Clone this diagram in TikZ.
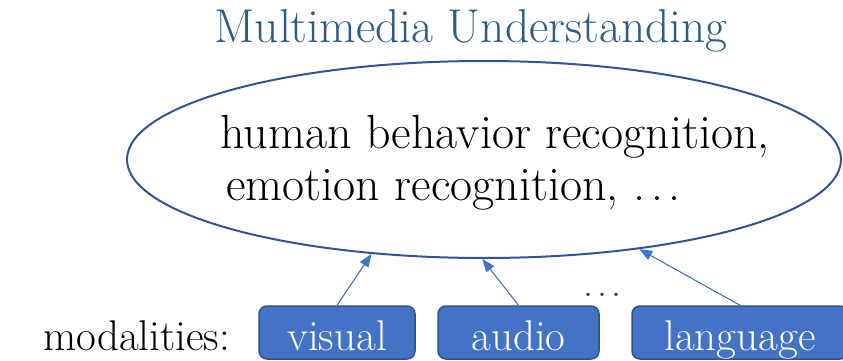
\documentclass[tikz,border=0pt]{standalone}
\usepackage{fontspec}
\usetikzlibrary{shapes.geometric,arrows.meta}
\definecolor{titleblue}{HTML}{2C5A8C}
\definecolor{ringblue}{HTML}{2F5597}
\definecolor{boxfill}{HTML}{4472C4}
\definecolor{boxline}{HTML}{2F528F}
\definecolor{dotnavy}{HTML}{203864}
% three loosely spaced dots
\newcommand\wideDots[1]{.\hspace{#1}.\hspace{#1}.}
\tikzset{
  modbox/.style={draw=boxline, line width=1.5pt, fill=boxfill, rounded corners=8pt,
    text=white, font=\fontsize{43}{43}\selectfont, inner sep=0pt,
    minimum height=53pt, text height=40pt, text depth=5pt},
  feed/.style={draw=boxfill, line width=1.1pt, -{Triangle[length=13pt,width=10pt]}},
  task/.style={font=\fontsize{48}{52}\selectfont, inner sep=0pt, anchor=base west}
}
\begin{document}
\begin{tikzpicture}[x=1pt,y=-1pt]
  \useasboundingbox (0,0) rectangle (843,361);
  \clip (0,0) rectangle (843,361);
  % heading
  \node[text=titleblue, font=\fontsize{47.5}{47.5}\selectfont, inner sep=0pt, anchor=base]
    (title) at (471,43) {Multimedia Understanding};
  % task ellipse
  \node[draw=ringblue, line width=2pt, ellipse, inner sep=0pt,
    minimum width=714pt, minimum height=197pt] (ell) at (484,159.5) {};
  \node[task] (t1) at (220,148) {human behavior recognition,};
  \node[task] (t2) at (226,200) {emotion recognition, \wideDots{0.12em}};
  % modality inputs
  \node[font=\fontsize{43}{43}\selectfont, inner sep=0pt, anchor=base west]
    (lab) at (43,350) {modalities:};
  \node[modbox, minimum width=156pt] (vis) at (337,332.5) {visual};
  \node[modbox, minimum width=161pt] (aud) at (518.5,332.5) {audio};
  \node[modbox, minimum width=216pt] (lan) at (740,332.5) {language};
  \node[text=dotnavy, font=\fontsize{40}{40}\selectfont, inner sep=0pt, anchor=base]
    (dots) at (602,296) {\wideDots{0.1em}};
  % arrows into the ellipse
  \draw[feed] (vis.north) -- (ell.220);
  \draw[feed] (aud.north) -- (ell.269);
  \draw[feed] (lan.north) -- (ell.330);
\end{tikzpicture}
\end{document}
